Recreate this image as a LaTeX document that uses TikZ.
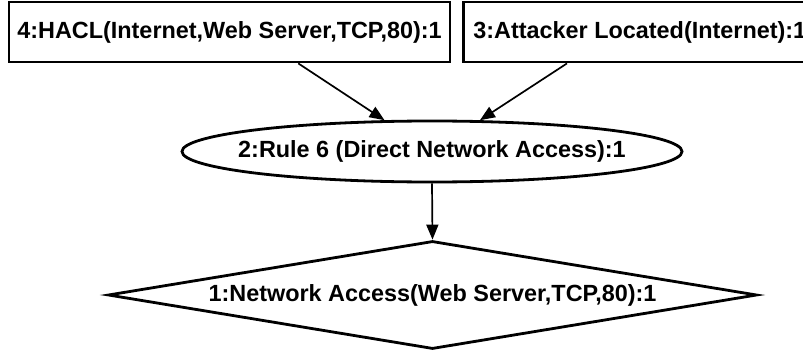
\documentclass[tikz,border=0pt]{standalone}
\usepackage{fontspec}
\setmainfont{Liberation Sans}
\usetikzlibrary{shapes.geometric,arrows.meta,calc}
\begin{document}
\begin{tikzpicture}[x=1pt,y=-1pt,
  every node/.style={font=\fontsize{23.4}{28}\selectfont\bfseries},
  factbox/.style={draw,rectangle,line width=2.8pt,inner sep=0pt,minimum height=60pt},
  rulenode/.style={draw,ellipse,line width=2.8pt,inner xsep=-30pt,inner ysep=0pt,
                   minimum width=500pt,minimum height=61pt},
  goalnode/.style={draw,diamond,aspect=6,line width=2.8pt,inner sep=0pt,
                   minimum width=649pt,minimum height=108pt},
  edge/.style={line width=1.7pt,-{Triangle[length=15pt,width=12pt]}}]
  \useasboundingbox (0,0) rectangle (803,353);
  \fill[white] (0,0) rectangle (803,353);
  \clip (0,0) rectangle (803,353);

  % leaf facts
  \node[factbox,minimum width=441pt] (hacl) at (229.5,32) {4:HACL(Internet,Web Server,TCP,80):1};
  \node[factbox,anchor=west,inner xsep=10pt] (att) at (462,32) {3:Attacker Located(Internet):1};

  % rule and derived goal
  \node[rulenode] (rule) at (432,151.5) {2:Rule 6 (Direct Network Access):1};
  \node[goalnode] (goal) at (432.5,295) {1:Network Access(Web Server,TCP,80):1};

  % connectors leave the fact boxes a little off centre
  \coordinate (hacl-out) at ($(hacl.south west)!0.655!(hacl.south east)$);
  \coordinate (att-out) at ($(att.south west)+(105,0)$);
  \draw[edge] (hacl-out) -- (rule);
  \draw[edge] (att-out) -- (rule);
  \draw[edge] (rule.south) -- (goal.north);
\end{tikzpicture}
\end{document}
